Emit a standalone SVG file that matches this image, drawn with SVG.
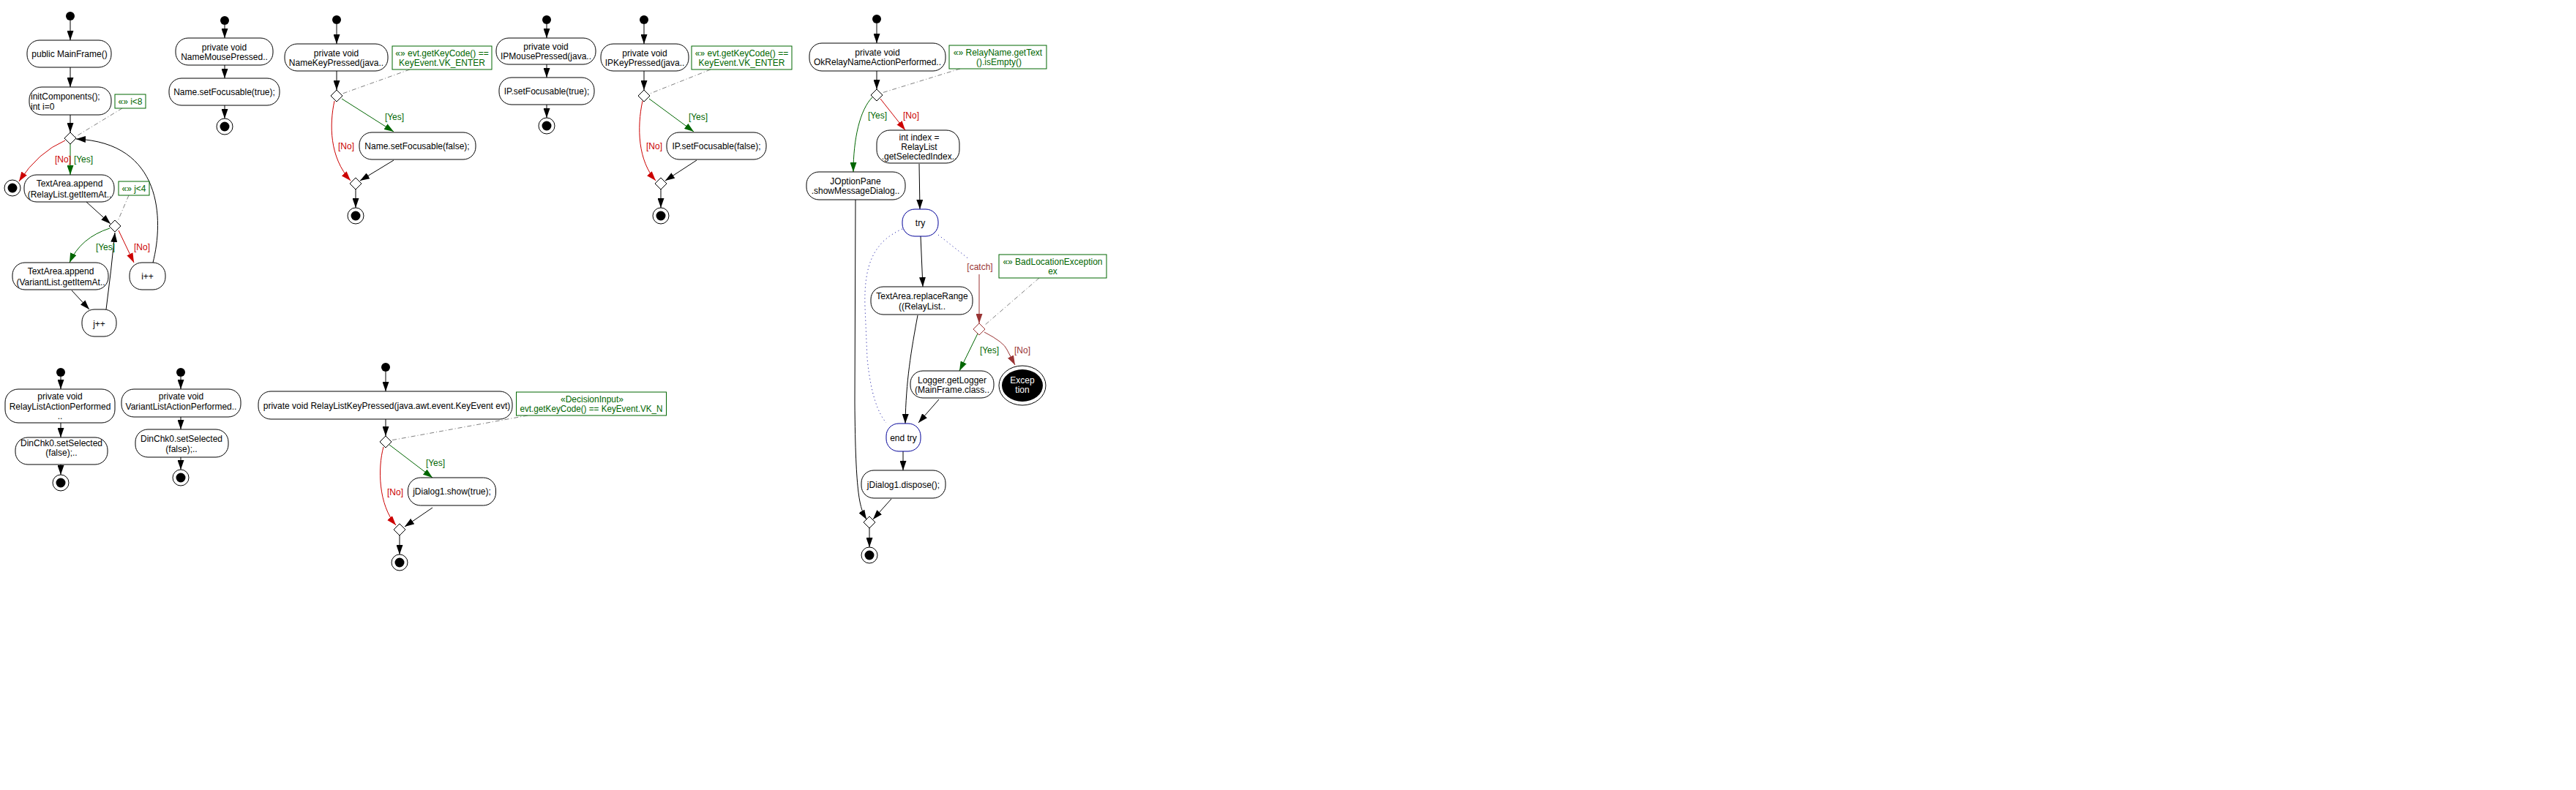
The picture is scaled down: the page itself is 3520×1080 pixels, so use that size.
<svg xmlns="http://www.w3.org/2000/svg" width="3520" height="1080" viewBox="0 0 3520 1080">
<style>
.n{fill:#fff;stroke:#000;stroke-width:1}
.nb{fill:#fff;stroke:#000099;stroke-width:1}
.t{font-family:"Liberation Sans",Arial,sans-serif;font-size:12px;text-anchor:middle;fill:#000}
.tl{text-anchor:start}
.nr{fill:#fff;stroke:#006600;stroke-width:1}
.ng{fill:#006600}
.nrd{fill:#cc0000}
.ndr{fill:#993333}
.st{fill:#000}
.c{fill:none;stroke:#000;stroke-width:1}
.cg{fill:none;stroke:#006600;stroke-width:1}
.cr{fill:none;stroke:#cc0000;stroke-width:1}
.cd{fill:none;stroke:#993333;stroke-width:1}
.cn{fill:none;stroke:#808080;stroke-width:1;stroke-dasharray:6 3 1 3}
.cb{fill:none;stroke:#000099;stroke-width:1;stroke-dasharray:1 4}
.dm{fill:#fff;stroke:#000;stroke-width:1}
</style>
<defs>
<marker id="ab" markerUnits="userSpaceOnUse" markerWidth="13" markerHeight="9" refX="13" refY="4.5" orient="auto"><path d="M0,0 L13,4.5 L0,9 z" fill="#000"/></marker>
<marker id="ag" markerUnits="userSpaceOnUse" markerWidth="13" markerHeight="9" refX="13" refY="4.5" orient="auto"><path d="M0,0 L13,4.5 L0,9 z" fill="#006600"/></marker>
<marker id="ar" markerUnits="userSpaceOnUse" markerWidth="13" markerHeight="9" refX="13" refY="4.5" orient="auto"><path d="M0,0 L13,4.5 L0,9 z" fill="#cc0000"/></marker>
<marker id="ad" markerUnits="userSpaceOnUse" markerWidth="13" markerHeight="9" refX="13" refY="4.5" orient="auto"><path d="M0,0 L13,4.5 L0,9 z" fill="#993333"/></marker>
</defs>
<rect x="0" y="0" width="3520" height="1080" fill="#fff"/>

<g id="connectors">
<!-- Diagram 1: MainFrame -->
<path class="c" marker-end="url(#ab)" d="M96,28 L96,55"/>
<path class="c" marker-end="url(#ab)" d="M96,92 L96,119"/>
<path class="c" marker-end="url(#ab)" d="M96,157 L96,181"/>
<path class="cn" d="M167,148 L103,187"/>
<path class="cr" marker-end="url(#ar)" d="M89,192 Q52,208 26,248"/>
<path class="cg" marker-end="url(#ag)" d="M96,197 L96,239"/>
<path class="cn" d="M176,267 L161,302"/>
<path class="c" marker-end="url(#ab)" d="M118,276 L151,306"/>
<path class="cg" marker-end="url(#ag)" d="M150,312 Q110,325 95,359"/>
<path class="cr" marker-end="url(#ar)" d="M162,315 L183,359"/>
<path class="c" marker-end="url(#ab)" d="M98,397 L122,423"/>
<path class="c" marker-end="url(#ab)" d="M145,423 Q152,370 157,318"/>
<path class="c" marker-end="url(#ab)" d="M209,359 C224,300 222,195 104,190"/>
<!-- Diagram 2: NameMousePressed -->
<path class="c" marker-end="url(#ab)" d="M307,34 L307,52"/>
<path class="c" marker-end="url(#ab)" d="M307,89 L307,107"/>
<path class="c" marker-end="url(#ab)" d="M307,144 L307,162"/>
<!-- Diagram 3: NameKeyPressed -->
<path class="c" marker-end="url(#ab)" d="M460,33 L460,60"/>
<path class="c" marker-end="url(#ab)" d="M460,97 L460,123"/>
<path class="cn" d="M560,95 L468,128"/>
<path class="cg" marker-end="url(#ag)" d="M467,135 L538,180"/>
<path class="cr" marker-end="url(#ar)" d="M457,138 C450,170 450,215 479,247"/>
<path class="c" marker-end="url(#ab)" d="M538,219 L492,247"/>
<path class="c" marker-end="url(#ab)" d="M486,259 L486,284"/>
<!-- Diagram 4: IPMousePressed -->
<path class="c" marker-end="url(#ab)" d="M747,33 L747,52"/>
<path class="c" marker-end="url(#ab)" d="M747,88 L747,106"/>
<path class="c" marker-end="url(#ab)" d="M747,143 L747,161"/>
<!-- Diagram 5: IPKeyPressed -->
<path class="c" marker-end="url(#ab)" d="M880,33 L880,60"/>
<path class="c" marker-end="url(#ab)" d="M880,97 L880,123"/>
<path class="cn" d="M971,95 L888,128"/>
<path class="cg" marker-end="url(#ag)" d="M887,135 L948,180"/>
<path class="cr" marker-end="url(#ar)" d="M878,138 C870,175 872,220 896,247"/>
<path class="c" marker-end="url(#ab)" d="M952,219 L909,247"/>
<path class="c" marker-end="url(#ab)" d="M903,259 L903,284"/>
<!-- Diagram 6: OkRelayNameActionPerformed -->
<path class="c" marker-end="url(#ab)" d="M1198,32 L1198,59"/>
<path class="c" marker-end="url(#ab)" d="M1198,97 L1198,122"/>
<path class="cn" d="M1312,94 L1205,127"/>
<path class="cg" marker-end="url(#ag)" d="M1192,133 C1175,150 1166,190 1166,235"/>
<path class="cr" marker-end="url(#ar)" d="M1203,135 L1237,178"/>
<path class="c" marker-end="url(#ab)" d="M1256,224 L1257,286"/>
<path class="c" marker-end="url(#ab)" d="M1258,323 L1261,392"/>
<path class="cb" d="M1233,313 C1195,330 1180,360 1182,420 L1185,490 C1190,540 1200,565 1211,578"/>
<path class="cb" d="M1282,321 L1325,355"/>
<path class="cd" marker-end="url(#ad)" d="M1338,375 L1338,442"/>
<path class="cn" d="M1420,380 L1345,445"/>
<path class="c" marker-end="url(#ab)" d="M1254,431 C1245,480 1238,520 1237,579"/>
<path class="cg" marker-end="url(#ag)" d="M1336,456 L1311,507"/>
<path class="cd" marker-end="url(#ad)" d="M1345,454 Q1372,468 1376,478 L1387,499"/>
<path class="c" marker-end="url(#ab)" d="M1283,546 L1255,578"/>
<path class="c" marker-end="url(#ab)" d="M1234,617 L1234,643"/>
<path class="c" marker-end="url(#ab)" d="M1169,273 L1168,550 C1169,680 1175,695 1184,710"/>
<path class="c" marker-end="url(#ab)" d="M1218,682 L1193,710"/>
<path class="c" marker-end="url(#ab)" d="M1188,722 L1188,748"/>
<!-- Diagram 7: RelayListActionPerformed -->
<path class="c" marker-end="url(#ab)" d="M83,515 L83,532"/>
<path class="c" marker-end="url(#ab)" d="M83,578 L83,598"/>
<path class="c" marker-end="url(#ab)" d="M83,635 L83,649"/>
<!-- Diagram 8: VariantListActionPerformed -->
<path class="c" marker-end="url(#ab)" d="M247,515 L247,532"/>
<path class="c" marker-end="url(#ab)" d="M247,570 L247,587"/>
<path class="c" marker-end="url(#ab)" d="M247,625 L247,642"/>
<!-- Diagram 9: RelayListKeyPressed -->
<path class="c" marker-end="url(#ab)" d="M527,508 L527,535"/>
<path class="c" marker-end="url(#ab)" d="M527,573 L527,596"/>
<path class="cn" d="M721,568 L534,602"/>
<path class="cg" marker-end="url(#ag)" d="M532,608 L591,653"/>
<path class="cr" marker-end="url(#ar)" d="M524,611 C516,640 517,690 541,718"/>
<path class="c" marker-end="url(#ab)" d="M591,694 L553,720"/>
<path class="c" marker-end="url(#ab)" d="M546,732 L546,758"/>
</g>

<g id="labels">
<text class="t nrd" x="86" y="222">[No]</text>
<text class="t ng" x="114" y="222">[Yes]</text>
<text class="t ng" x="144" y="342">[Yes]</text>
<text class="t nrd" x="194" y="342">[No]</text>
<text class="t ng" x="539" y="164">[Yes]</text>
<text class="t nrd" x="473" y="204">[No]</text>
<text class="t ng" x="954" y="164">[Yes]</text>
<text class="t nrd" x="894" y="204">[No]</text>
<text class="t ng" x="1199" y="162">[Yes]</text>
<text class="t nrd" x="1245" y="162">[No]</text>
<text class="t ndr" x="1339" y="369">[catch]</text>
<text class="t ng" x="1352" y="483">[Yes]</text>
<text class="t ndr" x="1397" y="483">[No]</text>
<text class="t ng" x="595" y="637">[Yes]</text>
<text class="t nrd" x="540" y="677">[No]</text>
</g>

<!-- Diagram 1 -->
<g id="mf_start"><circle cx="96" cy="22" r="6" class="st"/></g>
<g id="mf_ctor"><rect class="n" x="37" y="55" width="115" height="37" rx="17"/><text class="t" x="95" y="78">public MainFrame()</text></g>
<g id="mf_init"><rect class="n" x="40" y="119" width="112" height="38" rx="17"/><text class="t tl" x="42" y="136">initComponents();</text><text class="t tl" x="42" y="150">int i=0</text></g>
<g id="mf_note_i"><rect class="nr" x="157" y="129" width="42" height="19"/><text class="t ng" x="178" y="142.5">«» i&lt;8</text></g>
<g id="mf_dec_i"><path class="dm" d="M96,181 L104,189 L96,197 L88,189 z"/></g>
<g id="mf_final"><circle cx="17" cy="257" r="11" class="n"/><circle cx="17" cy="257" r="6.5" class="st"/></g>
<g id="mf_append_relay"><rect class="n" x="33" y="239" width="123" height="37" rx="17"/><text class="t" x="95" y="255">TextArea.append</text><text class="t" x="95" y="269.5">(RelayList.getItemAt..</text></g>
<g id="mf_note_j"><rect class="nr" x="162" y="248" width="42" height="19"/><text class="t ng" x="183" y="261.5">«» j&lt;4</text></g>
<g id="mf_dec_j"><path class="dm" d="M157,301 L165,309 L157,317 L149,309 z"/></g>
<g id="mf_append_variant"><rect class="n" x="17" y="359" width="131" height="37" rx="17"/><text class="t" x="83" y="375">TextArea.append</text><text class="t" x="83" y="389.5">(VariantList.getItemAt..</text></g>
<g id="mf_iinc"><rect class="n" x="177" y="359" width="49" height="37" rx="17"/><text class="t" x="201.5" y="381.5">i++</text></g>
<g id="mf_jinc"><rect class="n" x="112" y="423" width="47" height="37" rx="17"/><text class="t" x="135.5" y="446.5">j++</text></g>

<!-- Diagram 2 -->
<g id="nmp_start"><circle cx="307" cy="28" r="6" class="st"/></g>
<g id="nmp_method"><rect class="n" x="240" y="52" width="133" height="37" rx="17"/><text class="t" x="306.5" y="68.5">private void</text><text class="t" x="306.5" y="82">NameMousePressed..</text></g>
<g id="nmp_set"><rect class="n" x="231" y="107" width="151" height="37" rx="17"/><text class="t" x="306.5" y="130">Name.setFocusable(true);</text></g>
<g id="nmp_final"><circle cx="307" cy="173" r="11" class="n"/><circle cx="307" cy="173" r="6.5" class="st"/></g>

<!-- Diagram 3 -->
<g id="nkp_start"><circle cx="460" cy="27" r="6" class="st"/></g>
<g id="nkp_method"><rect class="n" x="389" y="60" width="141" height="37" rx="17"/><text class="t" x="459.5" y="77">private void</text><text class="t" x="459.5" y="90">NameKeyPressed(java..</text></g>
<g id="nkp_note"><rect class="nr" x="536" y="63" width="136" height="32"/><text class="t ng" x="604" y="77">«» evt.getKeyCode() ==</text><text class="t ng" x="604" y="90">KeyEvent.VK_ENTER</text></g>
<g id="nkp_dec"><path class="dm" d="M460,123 L468,131 L460,139 L452,131 z"/></g>
<g id="nkp_set"><rect class="n" x="491" y="181" width="159" height="37" rx="17"/><text class="t" x="570" y="204">Name.setFocusable(false);</text></g>
<g id="nkp_merge"><path class="dm" d="M486,243 L494,251 L486,259 L478,251 z"/></g>
<g id="nkp_final"><circle cx="486" cy="295" r="11" class="n"/><circle cx="486" cy="295" r="6.5" class="st"/></g>

<!-- Diagram 4 -->
<g id="imp_start"><circle cx="747" cy="27" r="6" class="st"/></g>
<g id="imp_method"><rect class="n" x="678" y="52" width="136" height="36" rx="17"/><text class="t" x="746" y="68">private void</text><text class="t" x="746" y="81">IPMousePressed(java..</text></g>
<g id="imp_set"><rect class="n" x="682" y="106" width="130" height="37" rx="17"/><text class="t" x="747" y="129">IP.setFocusable(true);</text></g>
<g id="imp_final"><circle cx="747" cy="172" r="11" class="n"/><circle cx="747" cy="172" r="6.5" class="st"/></g>

<!-- Diagram 5 -->
<g id="ikp_start"><circle cx="880" cy="27" r="6" class="st"/></g>
<g id="ikp_method"><rect class="n" x="821" y="60" width="120" height="37" rx="17"/><text class="t" x="881" y="77">private void</text><text class="t" x="881" y="90">IPKeyPressed(java..</text></g>
<g id="ikp_note"><rect class="nr" x="945" y="63" width="137" height="32"/><text class="t ng" x="1013.5" y="77">«» evt.getKeyCode() ==</text><text class="t ng" x="1013.5" y="90">KeyEvent.VK_ENTER</text></g>
<g id="ikp_dec"><path class="dm" d="M880,123 L888,131 L880,139 L872,131 z"/></g>
<g id="ikp_set"><rect class="n" x="911" y="181" width="136" height="37" rx="17"/><text class="t" x="979" y="204">IP.setFocusable(false);</text></g>
<g id="ikp_merge"><path class="dm" d="M903,243 L911,251 L903,259 L895,251 z"/></g>
<g id="ikp_final"><circle cx="903" cy="295" r="11" class="n"/><circle cx="903" cy="295" r="6.5" class="st"/></g>

<!-- Diagram 6 -->
<g id="ok_start"><circle cx="1198" cy="26" r="6" class="st"/></g>
<g id="ok_method"><rect class="n" x="1106" y="59" width="186" height="38" rx="17"/><text class="t" x="1199" y="76">private void</text><text class="t" x="1199" y="89">OkRelayNameActionPerformed..</text></g>
<g id="ok_note"><rect class="nr" x="1297" y="62" width="133" height="32"/><text class="t ng" x="1363.5" y="76">«» RelayName.getText</text><text class="t ng" x="1365" y="89">().isEmpty()</text></g>
<g id="ok_dec"><path class="dm" d="M1198,122 L1206,130 L1198,138 L1190,130 z"/></g>
<g id="ok_index"><rect class="n" x="1198" y="178" width="113" height="45" rx="18"/><text class="t" x="1256" y="191.5">int index =</text><text class="t" x="1256" y="204.7">RelayList</text><text class="t" x="1256" y="218.3">.getSelectedIndex..</text></g>
<g id="ok_joption"><rect class="n" x="1102" y="235" width="135" height="38" rx="17"/><text class="t" x="1169" y="251.7">JOptionPane</text><text class="t" x="1169" y="265">.showMessageDialog..</text></g>
<g id="ok_try"><rect class="nb" x="1233" y="286" width="49" height="37" rx="17"/><text class="t" x="1257.5" y="309">try</text></g>
<g id="ok_replace"><rect class="n" x="1190" y="392" width="139" height="38" rx="17"/><text class="t" x="1260" y="409">TextArea.replaceRange</text><text class="t" x="1260" y="422.7">((RelayList..</text></g>
<g id="ok_catch_dec"><path d="M1338,442 L1346,450 L1338,458 L1330,450 z" fill="#fff" stroke="#993333"/></g>
<g id="ok_note_ex"><rect class="nr" x="1365" y="348" width="147" height="32"/><text class="t ng" x="1438.5" y="362">«» BadLocationException</text><text class="t ng" x="1438.5" y="375">ex</text></g>
<g id="ok_logger"><rect class="n" x="1244" y="507" width="114" height="37" rx="17"/><text class="t" x="1301" y="523.7">Logger.getLogger</text><text class="t" x="1301" y="537">(MainFrame.class..</text></g>
<g id="ok_exception"><ellipse cx="1397" cy="527" rx="32" ry="27" class="n"/><ellipse cx="1397" cy="527" rx="28" ry="22" class="st"/><text class="t" x="1397" y="524" style="fill:#fff">Excep</text><text class="t" x="1397" y="537" style="fill:#fff">tion</text></g>
<g id="ok_endtry"><rect class="nb" x="1211" y="579" width="47" height="38" rx="17"/><text class="t" x="1234.5" y="603">end try</text></g>
<g id="ok_dispose"><rect class="n" x="1177" y="643" width="115" height="38" rx="17"/><text class="t" x="1234.5" y="666.5">jDialog1.dispose();</text></g>
<g id="ok_merge"><path class="dm" d="M1188,706 L1196,714 L1188,722 L1180,714 z"/></g>
<g id="ok_final"><circle cx="1188" cy="759" r="11" class="n"/><circle cx="1188" cy="759" r="6.5" class="st"/></g>

<!-- Diagram 7 -->
<g id="rla_start"><circle cx="83" cy="509" r="6" class="st"/></g>
<g id="rla_method"><rect class="n" x="7" y="532" width="150" height="46" rx="18"/><text class="t" x="82" y="545.7">private void</text><text class="t" x="82" y="560">RelayListActionPerformed</text><text class="t" x="82" y="573">..</text></g>
<g id="rla_set"><rect class="n" x="21" y="598" width="126" height="37" rx="17"/><text class="t" x="84" y="610">DinChk0.setSelected</text><text class="t" x="84" y="623.3">(false);..</text></g>
<g id="rla_final"><circle cx="83" cy="660" r="11" class="n"/><circle cx="83" cy="660" r="6.5" class="st"/></g>

<!-- Diagram 8 -->
<g id="vla_start"><circle cx="247" cy="509" r="6" class="st"/></g>
<g id="vla_method"><rect class="n" x="166" y="532" width="163" height="38" rx="17"/><text class="t" x="247.5" y="545.7">private void</text><text class="t" x="247.5" y="560">VariantListActionPerformed..</text></g>
<g id="vla_set"><rect class="n" x="185" y="587" width="127" height="38" rx="17"/><text class="t" x="248" y="604">DinChk0.setSelected</text><text class="t" x="248" y="618">(false);..</text></g>
<g id="vla_final"><circle cx="247" cy="653" r="11" class="n"/><circle cx="247" cy="653" r="6.5" class="st"/></g>

<!-- Diagram 9 -->
<g id="rlk_start"><circle cx="527" cy="502" r="6" class="st"/></g>
<g id="rlk_method"><rect class="n" x="353" y="535" width="347" height="38" rx="17"/><text class="t" x="528.5" y="558.5">private void RelayListKeyPressed(java.awt.event.KeyEvent evt)</text></g>
<g id="rlk_note"><rect class="nr" x="705.5" y="536" width="205" height="32"/><text class="t ng" x="809" y="549.7">«DecisionInput»</text><text class="t ng" x="808" y="563" textLength="195" lengthAdjust="spacingAndGlyphs">evt.getKeyCode() == KeyEvent.VK_N</text></g>
<g id="rlk_dec"><path class="dm" d="M527,596 L535,604 L527,612 L519,604 z"/></g>
<g id="rlk_show"><rect class="n" x="557.5" y="653" width="120" height="38" rx="17"/><text class="t" x="617.5" y="676">jDialog1.show(true);</text></g>
<g id="rlk_merge"><path class="dm" d="M546,716 L554,724 L546,732 L538,724 z"/></g>
<g id="rlk_final"><circle cx="546" cy="769" r="11" class="n"/><circle cx="546" cy="769" r="6.5" class="st"/></g>
</svg>
